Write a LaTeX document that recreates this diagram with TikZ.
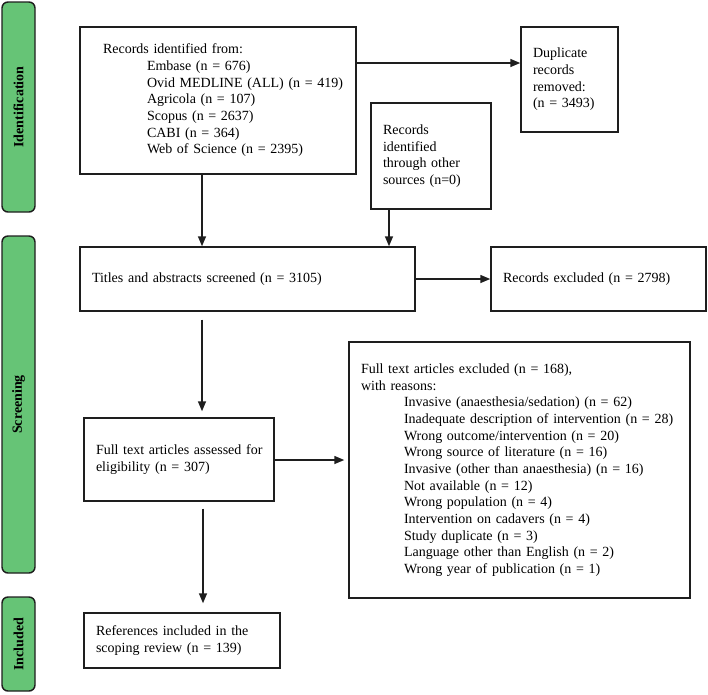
\documentclass[tikz,border=0pt]{standalone}
\usepackage{fontspec}
\setmainfont{Liberation Serif}
\usetikzlibrary{arrows.meta}
\definecolor{sidegreen}{RGB}{102,196,118}
\definecolor{linegray}{RGB}{30,30,30}
\begin{document}
\begin{tikzpicture}[x=0.75pt,y=-0.75pt,
  box/.style={draw=linegray, line width=1.1pt, fill=white, align=left,
    font=\fontsize{10.5}{12.5}\selectfont, inner xsep=9pt, inner ysep=0pt},
  phase/.style={draw=linegray, fill=sidegreen, line width=1.1pt, rounded corners=4.5pt,
    rotate=90, minimum height=24.75pt, inner sep=0pt,
    font=\fontsize{10.5}{12.5}\selectfont\bfseries},
  arr/.style={-{Triangle[length=7.5pt,width=6pt]}, line width=1.1pt, draw=linegray}]
\useasboundingbox (0,0) rectangle (708,694);

% phase bars
\node[phase, minimum width=157.5pt] (pid) at (18.5,107) {Identification};
\node[phase, minimum width=252.75pt] (psc) at (18.5,404.5) {Screening};
\node[phase, minimum width=70.5pt] (pin) at (18.5,644) {Included};

% boxes
\node[box, minimum width=207pt, minimum height=110.25pt, text width=172.5pt, inner xsep=17.25pt] (rec) at (218,100.5)
 {\mbox{Records identified from:}\\
  \hspace*{33pt}\mbox{Embase (n = 676)}\\
  \hspace*{33pt}\mbox{Ovid MEDLINE (ALL) (n = 419)}\\
  \hspace*{33pt}\mbox{Agricola (n = 107)}\\
  \hspace*{33pt}\mbox{Scopus (n = 2637)}\\
  \hspace*{33pt}\mbox{CABI (n = 364)}\\
  \hspace*{33pt}\mbox{Web of Science (n = 2395)}};
\node[box, minimum width=72.75pt, minimum height=78.75pt, text width=54.75pt] (dup) at (569.5,79.5)
 {Duplicate\\records\\removed:\\\mbox{(n = 3493)}};
\node[box, minimum width=90pt, minimum height=79.5pt, text width=72pt] (oth) at (431,156)
 {Records\\identified\\\mbox{through other}\\\mbox{sources (n=0)}};
\node[box, minimum width=251.25pt, minimum height=48pt, text width=233.25pt] (titles) at (247.5,279)
 {\mbox{Titles and abstracts screened (n = 3105)}};
\node[box, minimum width=161.25pt, minimum height=48pt, text width=143.25pt] (recexcl) at (598.5,279)
 {\mbox{Records excluded (n = 2798)}};
\node[box, minimum width=142.5pt, minimum height=62.25pt, text width=124.5pt] (assessed) at (179,459.5)
 {\mbox{Full text articles assessed for}\\\mbox{eligibility (n = 307)}};
\node[box, minimum width=255.75pt, minimum height=192pt, text width=237.75pt] (ftexcl) at (519.5,470)
 {\mbox{Full text articles excluded (n = 168),}\\
  \mbox{with reasons:}\\
  \hspace*{32.25pt}\mbox{Invasive (anaesthesia/sedation) (n = 62)}\\
  \hspace*{32.25pt}\mbox{Inadequate description of intervention (n = 28)}\\
  \hspace*{32.25pt}\mbox{Wrong outcome/intervention (n = 20)}\\
  \hspace*{32.25pt}\mbox{Wrong source of literature (n = 16)}\\
  \hspace*{32.25pt}\mbox{Invasive (other than anaesthesia) (n = 16)}\\
  \hspace*{32.25pt}\mbox{Not available (n = 12)}\\
  \hspace*{32.25pt}\mbox{Wrong population (n = 4)}\\
  \hspace*{32.25pt}\mbox{Intervention on cadavers (n = 4)}\\
  \hspace*{32.25pt}\mbox{Study duplicate (n = 3)}\\
  \hspace*{32.25pt}\mbox{Language other than English (n = 2)}\\
  \hspace*{32.25pt}\mbox{Wrong year of publication (n = 1)}};
\node[box, minimum width=147pt, minimum height=41.25pt, text width=129pt] (refs) at (182,640.5)
 {\mbox{References included in the}\\\mbox{scoping review (n = 139)}};

% helper coordinates
\coordinate (y63) at (0,63);
\coordinate (y460) at (0,460);
\coordinate (x202) at (202,0);
\coordinate (x389) at (389,0);
\coordinate (x203) at (203,0);

% connectors
\draw[arr] (rec.east |- y63) -- (dup.west |- y63);
\draw[arr] (rec.south -| x202) -- (titles.north -| x202);
\draw[arr] (oth.south -| x389) -- (titles.north -| x389);
\draw[arr] (titles.east) -- (recexcl.west);
\draw[arr, shorten <=6pt, shorten >=4.5pt] (titles.south -| x202) -- (assessed.north -| x202);
\draw[arr, shorten >=3pt] (assessed.east |- y460) -- (ftexcl.west |- y460);
\draw[arr, shorten <=5.25pt, shorten >=6.75pt] (assessed.south -| x203) -- (refs.north -| x203);
\end{tikzpicture}
\end{document}
